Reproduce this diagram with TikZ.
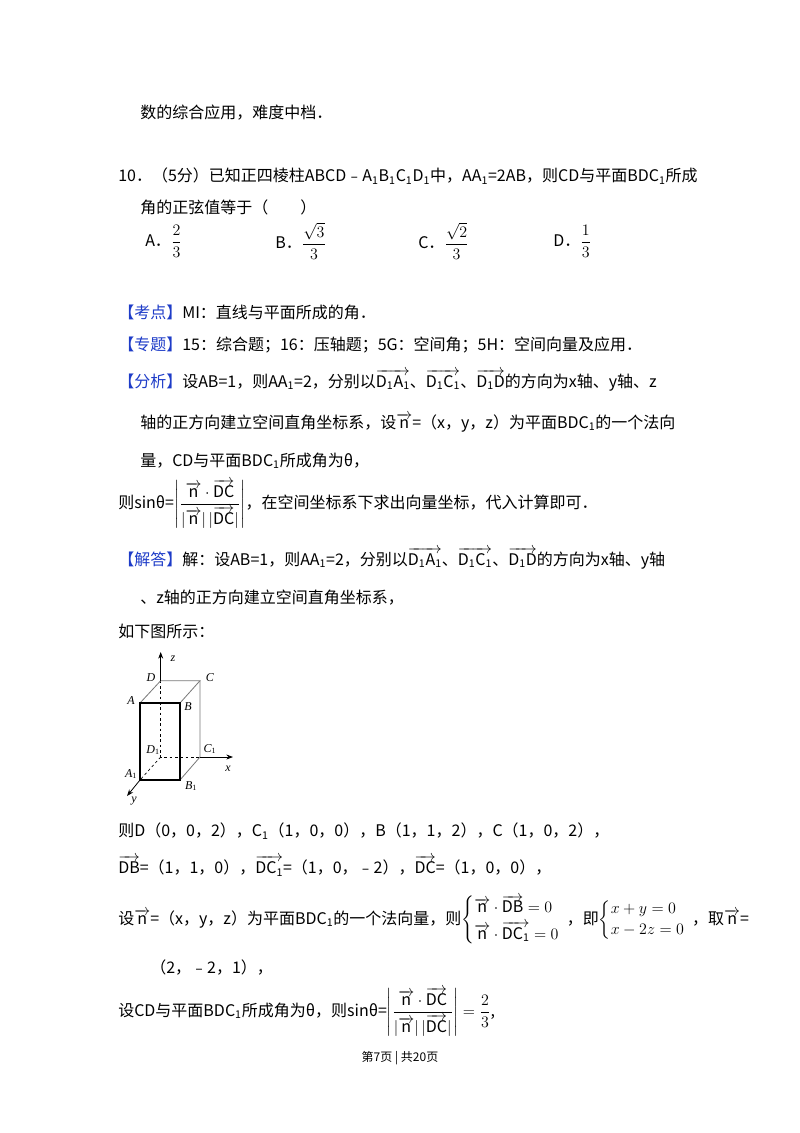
\documentclass[tikz,border=0pt]{standalone}
\usepackage{fontspec}
\usepackage{amsmath}
\usetikzlibrary{arrows.meta}
\setmainfont{Noto Sans CJK SC}
\newfontfamily\tnr{Liberation Serif}
\newcommand\vect[1]{$\overrightarrow{\mathrm{#1}}$}
\newcommand\sub[1]{\textsubscript{#1}}
\definecolor{kblue}{RGB}{30,60,200}
\definecolor{edgegray}{RGB}{120,120,120}
\begin{document}
\begin{tikzpicture}[x=0.75pt,y=-0.75pt,
  txt/.style={anchor=west,inner sep=0pt,font=\fontsize{12pt}{14pt}\selectfont},
  lbl/.style={inner sep=0pt,font=\tnr\itshape\fontsize{9pt}{10pt}\selectfont},
  thin edge/.style={draw=edgegray,line width=0.6pt},
  thick edge/.style={draw=black,line width=1pt},
  hidden/.style={draw=black,dashed,dash pattern=on 2pt off 2pt,line width=0.5pt},
  axis/.style={draw=black,line width=0.6pt,-{Stealth[length=5pt]}}]
\useasboundingbox[fill=white] (0,0) rectangle (800,1133);
\node[txt] (l1) at (140,113) {数的综合应用，难度中档．};
\node[txt] (l2) at (118,176) {10．（5分）已知正四棱柱ABCD﹣A\sub{1}B\sub{1}C\sub{1}D\sub{1}中，AA\sub{1}=2AB，则CD与平面BDC\sub{1}所成};
\node[txt] (l3) at (140,207) {角的正弦值等于（\quad\quad）};
\node[txt] (oa) at (145,241) {A．$\dfrac{2}{3}$};
\node[txt] (ob) at (275,241) {B．$\dfrac{\sqrt{3}}{3}$};
\node[txt] (oc) at (418,241) {C．$\dfrac{\sqrt{2}}{3}$};
\node[txt] (od) at (553,241) {D．$\dfrac{1}{3}$};
\node[txt] (k1) at (118,312) {\textcolor{kblue}{【考点】}MI：直线与平面所成的角．};
\node[txt] (k2) at (118,345) {\textcolor{kblue}{【专题】}15：综合题；16：压轴题；5G：空间角；5H：空间向量及应用．};
\node[txt] (k3) at (118,380) {\textcolor{kblue}{【分析】}设AB=1，则AA\sub{1}=2，分别以\vect{D_1A_1}、\vect{D_1C_1}、\vect{D_1D}的方向为x轴、y轴、z};
\node[txt] (k4) at (140,423) {轴的正方向建立空间直角坐标系，设\vect{n}=（x，y，z）为平面BDC\sub{1}的一个法向};
\node[txt] (k5) at (140,461) {量，CD与平面BDC\sub{1}所成角为θ，};
\node[txt] (k6) at (118,504) {则sinθ=$\left|\dfrac{\overrightarrow{\mathrm{n}}\cdot\overrightarrow{\mathrm{DC}}}{|\overrightarrow{\mathrm{n}}|\,|\overrightarrow{\mathrm{DC}}|}\right|$，在空间坐标系下求出向量坐标，代入计算即可．};
\node[txt] (j1) at (118,558) {\textcolor{kblue}{【解答】}解：设AB=1，则AA\sub{1}=2，分别以\vect{D_1A_1}、\vect{D_1C_1}、\vect{D_1D}的方向为x轴、y轴};
\node[txt] (j2) at (140,598) {、z轴的正方向建立空间直角坐标系，};
\node[txt] (j3) at (118,631) {如下图所示：};
% diagram
\coordinate (D) at (160.7,680.7); \coordinate (C) at (200,680.7);
\coordinate (A) at (140,703); \coordinate (B) at (180,703);
\coordinate (D1) at (160.7,757); \coordinate (C1) at (200,757);
\coordinate (A1) at (140,780); \coordinate (B1) at (180,780);
\coordinate (zt) at (160.7,652); \coordinate (xt) at (233,757); \coordinate (yt) at (127,796);
\draw[hidden] (D) -- (D1) -- (C1);
\draw[hidden] (D1) -- (A1);
\draw[thin edge] (A) -- (D) -- (C) -- (B);
\draw[thin edge] (C) -- (C1) -- (B1);
\draw[thick edge] (A) -- (B) -- (B1) -- (A1) -- cycle;
\draw[axis] (D) -- (zt);
\draw[axis] (C1) -- (xt);
\draw[axis] (A1) -- (yt);
\node[lbl] (lz) at (173,659) {z};
\node[lbl] (lD) at (151,678) {D};
\node[lbl] (lC) at (210,678) {C};
\node[lbl] (lA) at (131,701) {A};
\node[lbl] (lB) at (188,707) {B};
\node[lbl] (lD1) at (153,750) {D\textsubscript{\upshape 1}};
\node[lbl] (lC1) at (210,749) {C\textsubscript{\upshape 1}};
\node[lbl] (lx) at (228,769) {x};
\node[lbl] (lA1) at (131,774) {A\textsubscript{\upshape 1}};
\node[lbl] (lB1) at (191,786) {B\textsubscript{\upshape 1}};
\node[lbl] (ly) at (134,801) {y};
% solution
\node[txt] (s1) at (118,831) {则D（0，0，2），C\sub{1}（1，0，0），B（1，1，2），C（1，0，2），};
\node[txt] (s2) at (118,866) {\vect{DB}=（1，1，0），\vect{DC_1}=（1，0，﹣2），\vect{DC}=（1，0，0），};
\node[txt] (s3) at (118,920) {设\vect{n}=（x，y，z）为平面BDC\sub{1}的一个法向量，则$\left\{\begin{array}{@{}l}\overrightarrow{\mathrm{n}}\cdot\overrightarrow{\mathrm{DB}}=0\\[2pt] \overrightarrow{\mathrm{n}}\cdot\overrightarrow{\mathrm{DC_1}}=0\end{array}\right.$，即$\left\{\begin{array}{@{}l}x+y=0\\[2pt] x-2z=0\end{array}\right.$，取\vect{n}=};
\node[txt] (s4) at (150,967) {（2，﹣2，1），};
\node[txt] (s5) at (118,1012) {设CD与平面BDC\sub{1}所成角为θ，则sinθ=$\left|\dfrac{\overrightarrow{\mathrm{n}}\cdot\overrightarrow{\mathrm{DC}}}{|\overrightarrow{\mathrm{n}}|\,|\overrightarrow{\mathrm{DC}}|}\right|=\dfrac{2}{3}$,};
\node[inner sep=0pt,font=\fontsize{9pt}{10pt}\selectfont] (ft) at (400,1058) {第7页 | 共20页};
\end{tikzpicture}
\end{document}
